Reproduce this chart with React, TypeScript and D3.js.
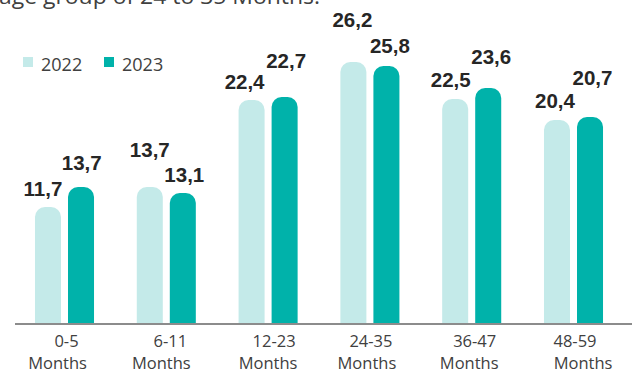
import React from "react";
import * as d3 from "d3";

const categories = ["0-5", "6-11", "12-23", "24-35", "36-47", "48-59"];
const unitLabel = "Months";
const seriesNames = ["2022", "2023"];
const values2022 = [11.7, 13.7, 22.4, 26.2, 22.5, 20.4];
const values2023 = [13.7, 13.1, 22.7, 25.8, 23.6, 20.7];
const titleFragment = "age group of 24 to 35 Months.";

// layout-only label nudges (px) relative to each bar's top centre
const nudge2022 = [[-5, 11], [0, 30], [-7, 11], [-1, 35], [-4.5, 12], [-2, 12]];
const nudge2023 = [[0.7, 16.6], [1.5, 11], [1.5, 29], [3.5, 13], [3, 24], [2.5, 32]];
const line1Dx = [2, 4, 6, 1, 3, 1.5];
const line2Dx = [-7, -5, 0, -3, -2.5, 9.5];

const W = 637;
const H = 373;
const colors = ["#C4EAE9", "#00B2AA"];
const fmt = (v: number) => v.toFixed(1).replace(".", ",");

function topRoundedBar(x: number, y: number, w: number, h: number, r: number) {
  const rr = Math.min(r, w / 2, h);
  const p = d3.path();
  p.moveTo(x, y + h);
  p.lineTo(x, y + rr);
  p.arcTo(x, y, x + rr, y, rr);
  p.lineTo(x + w - rr, y);
  p.arcTo(x + w, y, x + w, y + rr, rr);
  p.lineTo(x + w, y + h);
  p.closePath();
  return p.toString();
}

export default function App() {
  const x0 = d3
    .scaleBand<string>()
    .domain(categories)
    .range([13.6, 624.4])
    .paddingInner(0.42)
    .paddingOuter(0.21);
  const x1 = d3
    .scaleBand<string>()
    .domain(seriesNames)
    .range([0, x0.bandwidth()])
    .paddingInner(7 / 33)
    .paddingOuter(0);
  const y = d3.scaleLinear().domain([0, 30]).range([324, 24]);
  const series = [values2022, values2023];
  const nudges = [nudge2022, nudge2023];

  return (
    <svg
      width={W}
      height={H}
      style={{ position: "absolute", left: 0, top: 0, background: "#fff" }}
    >
      <text
        x={-1}
        y={4}
        fontFamily="'Open Sans', 'Noto Sans', sans-serif"
        fontSize={22}
        textLength={321}
        lengthAdjust="spacingAndGlyphs"
        fill="#404040"
      >
        {titleFragment}
      </text>

      {/* legend */}
      {seriesNames.map((s, i) => (
        <g key={s} transform={`translate(${i === 0 ? 23 : 104},0)`}>
          <rect x={0} y={57} width={10} height={10} fill={colors[i]} />
          <text
            x={18}
            y={71}
            fontFamily="'Open Sans', 'Noto Sans', sans-serif"
            fontSize={18}
            fill="#404040"
          >
            {s}
          </text>
        </g>
      ))}

      {/* bars */}
      {categories.map((c, ci) => (
        <g key={c} transform={`translate(${x0(c)},0)`}>
          {seriesNames.map((s, si) => {
            const v = series[si][ci];
            const bx = x1(s) as number;
            const bw = x1.bandwidth();
            const top = y(v);
            return (
              <path
                key={s}
                d={topRoundedBar(bx, top, bw, y(0) - top, 10)}
                fill={colors[si]}
              />
            );
          })}
        </g>
      ))}

      {/* axis line */}
      <line x1={15} x2={632} y1={y(0)} y2={y(0)} stroke="#8c8c8c" strokeWidth={2} />

      {/* value labels */}
      {categories.map((c, ci) =>
        seriesNames.map((s, si) => {
          const v = series[si][ci];
          const cx = (x0(c) as number) + (x1(s) as number) + x1.bandwidth() / 2;
          const [dx, dy] = nudges[si][ci];
          return (
            <text
              key={c + s}
              x={cx + dx}
              y={y(v) - dy}
              textAnchor="middle"
              fontFamily="'Liberation Sans', Arial, sans-serif"
              fontWeight="bold"
              fontSize={20.5}
              fill="#262626"
            >
              {fmt(v)}
            </text>
          );
        })
      )}

      {/* category labels */}
      {categories.map((c, ci) => {
        const cx = (x0(c) as number) + x0.bandwidth() / 2;
        return (
          <g key={c}>
            <text
              x={cx + line1Dx[ci]}
              y={347}
              textAnchor="middle"
              fontFamily="'Open Sans', 'Noto Sans', sans-serif"
              fontSize={16.5}
              fill="#404040"
            >
              {c}
            </text>
            <text
              x={cx + line2Dx[ci]}
              y={368.5}
              textAnchor="middle"
              fontFamily="'Open Sans', 'Noto Sans', sans-serif"
              fontSize={16.5}
              fill="#404040"
            >
              {unitLabel}
            </text>
          </g>
        );
      })}
    </svg>
  );
}
